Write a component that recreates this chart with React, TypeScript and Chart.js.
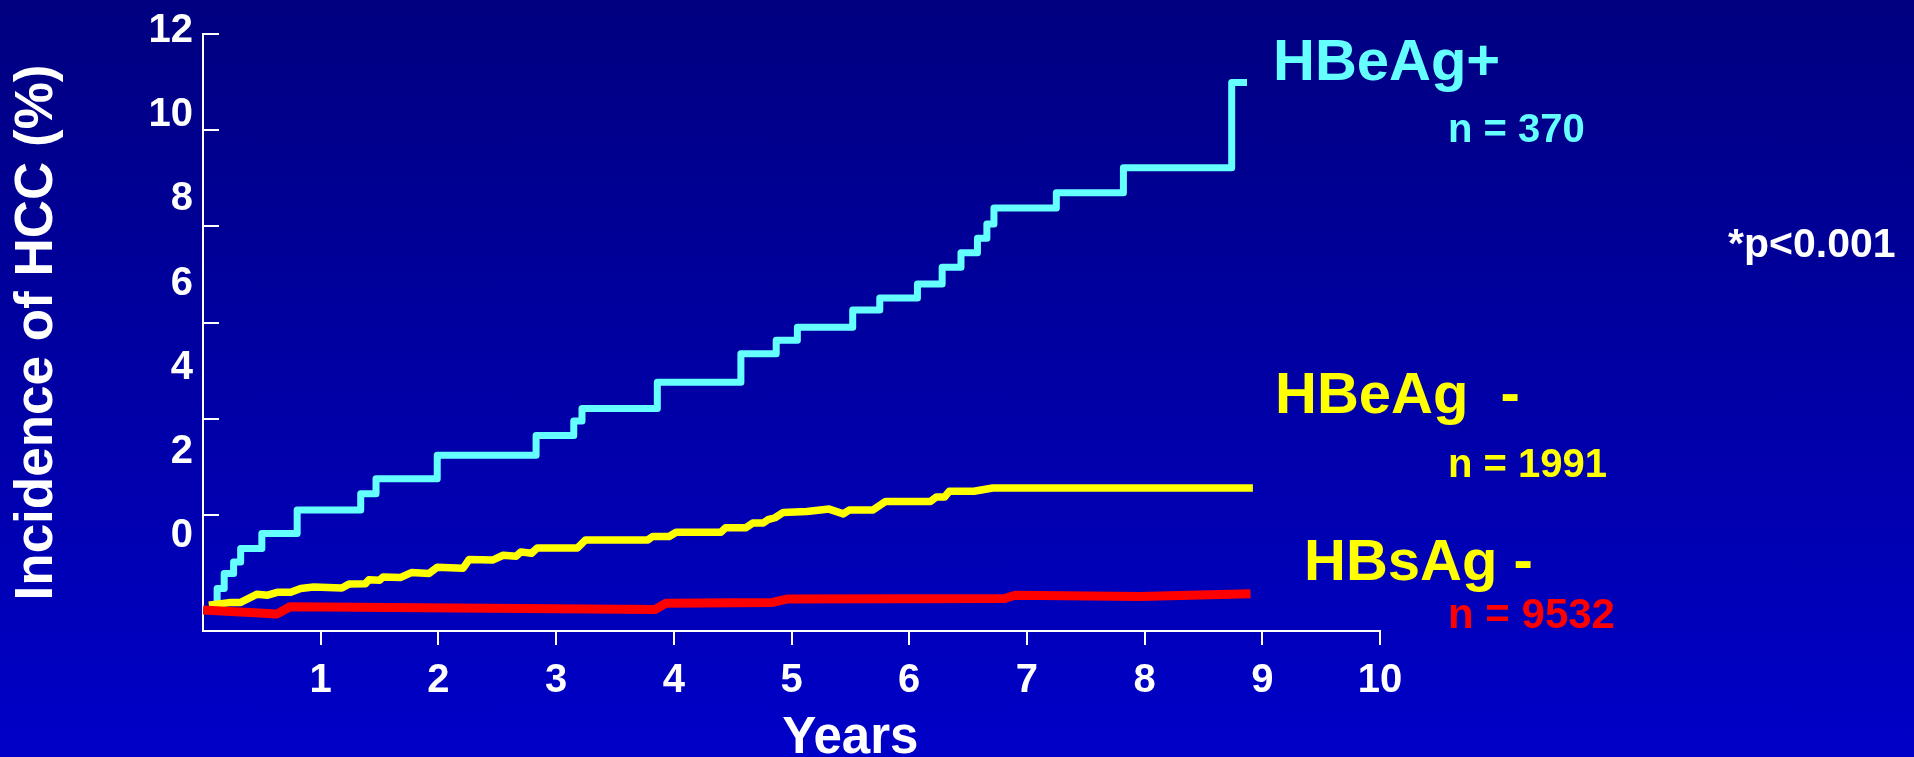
import React, { useEffect, useRef } from "react";
import { Chart, registerables } from "chart.js";

Chart.register(...registerables);

// ---- data ----
const xTickValues = [1, 2, 3, 4, 5, 6, 7, 8, 9, 10];
const yTickMarkValues = [2, 4, 6, 8, 10, 12];
const yTickLabelValues = [0, 2, 4, 6, 8, 10, 12];

// HBeAg+ (Kaplan-Meier steps: time of event, level after event)
const hbeagPosYears = [
  0.055, 0.12, 0.18, 0.26, 0.32, 0.5, 0.8, 1.34, 1.47, 1.99, 2.83, 3.15, 3.22,
  3.86, 4.57, 4.87, 5.05, 5.52, 5.75, 6.07, 6.28, 6.44, 6.58, 6.66, 6.72, 7.25,
  7.82, 8.74, 8.87,
];
const hbeagPosIncidence = [
  0.12, 0.47, 0.78, 1.02, 1.3, 1.61, 2.1, 2.44, 2.75, 3.24, 3.65, 3.95, 4.21,
  4.76, 5.35, 5.63, 5.9, 6.26, 6.51, 6.8, 7.15, 7.45, 7.75, 8.05, 8.38, 8.7,
  9.22, 10.99, 10.99,
];

// HBeAg-
const hbeagNegYears = [
  0.05, 0.235, 0.32, 0.46, 0.55, 0.63, 0.745, 0.83, 0.94, 1.18, 1.24, 1.38,
  1.41, 1.5, 1.53, 1.68, 1.77, 1.92, 1.99, 2.21, 2.26, 2.46, 2.55, 2.66, 2.7,
  2.79, 2.84, 3.18, 3.25, 3.78, 3.82, 3.96, 4.02, 4.4, 4.44, 4.61, 4.67, 4.76,
  4.8, 4.86, 4.93, 5.13, 5.32, 5.44, 5.49, 5.69, 5.8, 6.18, 6.23, 6.3, 6.34,
  6.55, 6.71, 8.92,
];
const hbeagNegIncidence = [
  0.12, 0.18, 0.18, 0.35, 0.33, 0.39, 0.39, 0.47, 0.5, 0.48, 0.56, 0.57, 0.65,
  0.64, 0.71, 0.7, 0.8, 0.78, 0.91, 0.89, 1.07, 1.06, 1.16, 1.14, 1.23, 1.2,
  1.31, 1.31, 1.48, 1.48, 1.55, 1.55, 1.64, 1.64, 1.73, 1.73, 1.83, 1.83, 1.9,
  1.94, 2.05, 2.07, 2.12, 2.02, 2.1, 2.1, 2.28, 2.28, 2.37, 2.37, 2.49, 2.49,
  2.56, 2.56,
];

// HBsAg-
const hbsagNegYears = [0.0, 0.63, 0.74, 3.84, 3.93, 4.84, 4.96, 6.81, 6.9, 7.96, 8.9];
const hbsagNegIncidence = [0.02, -0.06, 0.09, 0.03, 0.16, 0.18, 0.25, 0.26, 0.33, 0.3, 0.36];

const seriesNames = ["HBeAg+", "HBeAg  -", "HBsAg -"];
const sampleSizes = ["n = 370", "n = 1991", "n = 9532"];
const pValueText = "*p<0.001";
const yAxisTitle = "Incidence of HCC (%)";
const xAxisTitle = "Years";

const CYAN = "#66FFFF";
const YELLOW = "#FFFF00";
const RED = "#FF0000";
const WHITE = "#FFFFFF";
const FONT = "'Liberation Sans', Arial, Helvetica, sans-serif";

const toPoints = (xs: number[], ys: number[]) => xs.map((x, i) => ({ x, y: ys[i] }));

export default function App() {
  const canvasRef = useRef<HTMLCanvasElement>(null);

  useEffect(() => {
    const canvas = canvasRef.current;
    if (!canvas) return;

    const textPlugin = {
      id: "slideText",
      afterDraw(chart: any) {
        const ctx = chart.ctx as CanvasRenderingContext2D;
        ctx.save();
        const draw = (text: string, x: number, y: number, size: number, color: string, align: CanvasTextAlign = "left") => {
          ctx.font = `bold ${size}px ${FONT}`;
          ctx.fillStyle = color;
          ctx.textAlign = align;
          ctx.textBaseline = "alphabetic";
          ctx.fillText(text, x, y);
        };
        draw(seriesNames[0], 1273, 80, 58, CYAN);
        draw(sampleSizes[0], 1448, 142, 40, CYAN);
        draw(pValueText, 1728, 257, 41, WHITE);
        draw(seriesNames[1], 1275, 413, 58, YELLOW);
        draw(sampleSizes[1], 1448, 477, 40, YELLOW);
        draw(seriesNames[2], 1304, 580, 58, YELLOW);
        draw(sampleSizes[2], 1448, 628, 42, RED);
        const xs = chart.scales.x;
        draw(xAxisTitle, xs.getPixelForValue(5.5), 753, 51, WHITE, "center");
        ctx.restore();
      },
    };

    const tickFont = { family: FONT, size: 40, weight: "bold" as const };

    const chart = new Chart(canvas, {
      type: "line",
      data: {
        datasets: [
          {
            label: seriesNames[0],
            data: toPoints(hbeagPosYears, hbeagPosIncidence),
            borderColor: CYAN,
            borderWidth: 7,
            stepped: true,
            pointRadius: 0,
            borderJoinStyle: "round",
            borderCapStyle: "butt",
            fill: false,
            order: 3,
          },
          {
            label: seriesNames[1],
            data: toPoints(hbeagNegYears, hbeagNegIncidence),
            borderColor: YELLOW,
            borderWidth: 7.5,
            tension: 0,
            pointRadius: 0,
            borderJoinStyle: "round",
            borderCapStyle: "butt",
            fill: false,
            order: 2,
          },
          {
            label: seriesNames[2],
            data: toPoints(hbsagNegYears, hbsagNegIncidence),
            borderColor: RED,
            borderWidth: 9,
            tension: 0,
            pointRadius: 0,
            borderJoinStyle: "round",
            borderCapStyle: "butt",
            fill: false,
            order: 1,
          },
        ],
      },
      options: {
        responsive: false,
        devicePixelRatio: 1,
        animation: false,
        layout: { padding: { left: 0, right: 534, top: 33, bottom: 0 } },
        plugins: {
          legend: { display: false },
          tooltip: { enabled: false },
          title: { display: false },
        },
        scales: {
          x: {
            type: "linear",
            position: "bottom",
            min: 0,
            max: 10,
            afterBuildTicks: (s: any) => {
              s.ticks = xTickValues.map((v) => ({ value: v }));
            },
            afterFit: (s: any) => {
              s.height = 126;
            },
            grid: {
              display: true,
              drawOnChartArea: false,
              drawTicks: true,
              tickLength: 14,
              color: WHITE,
              lineWidth: 2,
            },
            border: { display: true, color: WHITE, width: 2 },
            ticks: {
              color: WHITE,
              font: tickFont,
              padding: 12,
              autoSkip: false,
              maxRotation: 0,
              minRotation: 0,
            },
          },
          y: {
            type: "linear",
            position: "left",
            weight: 0,
            min: -0.415,
            max: 12,
            afterBuildTicks: (s: any) => {
              s.ticks = yTickMarkValues.map((v) => ({ value: v }));
            },
            afterFit: (s: any) => {
              s.width = 0;
            },
            grid: {
              display: true,
              drawOnChartArea: false,
              drawTicks: true,
              tickLength: -16,
              color: WHITE,
              lineWidth: 2,
            },
            border: { display: true, color: WHITE, width: 2 },
            ticks: { display: false },
          },
          yl: {
            type: "linear",
            position: "left",
            weight: 1,
            min: -2.253,
            max: 11.928,
            afterBuildTicks: (s: any) => {
              s.ticks = yTickLabelValues.map((v) => ({ value: v }));
            },
            afterFit: (s: any) => {
              s.width = 203;
            },
            grid: { display: false, drawTicks: false, drawOnChartArea: false },
            border: { display: false },
            ticks: { color: WHITE, font: tickFont, padding: 10, autoSkip: false },
            title: {
              display: true,
              text: yAxisTitle,
              color: WHITE,
              font: { family: FONT, size: 53, weight: "bold" },
              padding: { top: 6, bottom: 0 },
            },
          },
        },
      },
      plugins: [textPlugin],
    } as any);

    return () => chart.destroy();
  }, []);

  return (
    <div
      style={{
        position: "fixed",
        left: 0,
        top: 0,
        width: 1914,
        height: 757,
        background: "linear-gradient(to bottom, #000080 0%, #0000C8 100%)",
      }}
    >
      <canvas ref={canvasRef} width={1914} height={757} style={{ display: "block" }} />
    </div>
  );
}
